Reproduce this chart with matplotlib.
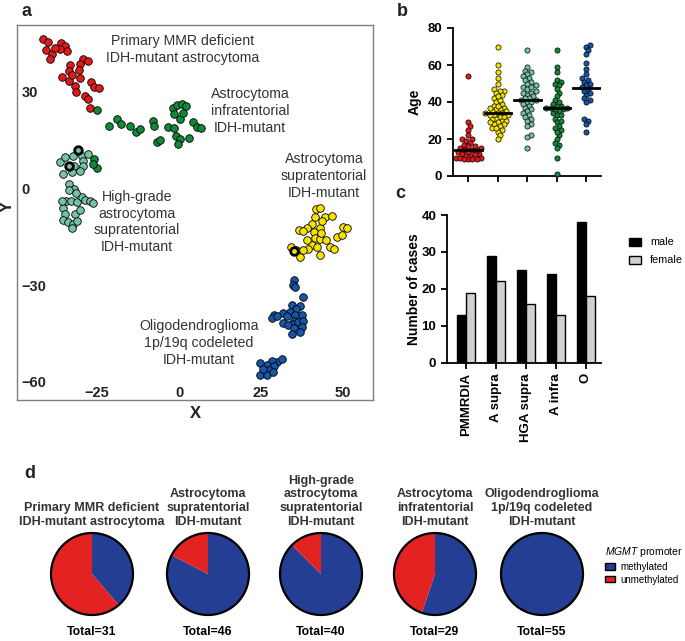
import numpy as np
import matplotlib.pyplot as plt
from matplotlib.patches import Patch, Circle

plt.rcParams["font.family"] = ["Liberation Sans", "DejaVu Sans"]
plt.rcParams["mathtext.fontset"] = "custom"
plt.rcParams["mathtext.it"] = "Liberation Sans:italic"

W, H = 685, 641

RED = "#e31a1c"
GREEN = "#10893a"
TEAL = "#74c3a6"
YELLOW = "#f7e300"
BLUE = "#1656a6"
PIE_BLUE = "#233e92"
PIE_RED = "#e32222"

# ---- panel a: t-SNE coordinates per cluster ----
mmr_x = [-41.4, -40.1, -40.5, -38.8, -39.3, -36.0, -34.7, -34.2, -36.3, -37.8,
         -29.4, -27.9, -30.2, -33.2, -30.6, -33.7, -35.8, -33.4, -30.2, -31.7,
         -31.4, -26.9, -25.9, -24.3, -28.7, -27.9, -27.3, -32.7]
mmr_y = [46.1, 45.1, 42.8, 41.6, 39.9, 44.9, 43.9, 42.3, 43.0, 43.3,
         39.9, 39.4, 38.4, 38.2, 36.6, 36.4, 34.3, 33.3, 34.0, 31.7,
         29.9, 33.0, 31.3, 31.0, 28.4, 27.6, 24.8, 35.1]

infra_x = [-25.1, -21.5, -18.8, -17.8, -15.1, -13.1, -11.9, -8.0, -7.6, -6.8,
           -5.8, -3.3, -1.5, -1.9, -0.5, 0.9, 2.1, -1.5, 0.3, -0.9,
           0.3, 2.9, 4.2, 5.4, 6.7, -0.2, 1.3, -25.9, -25.1, -26.3]
infra_y = [24.3, 19.3, 21.4, 19.8, 19.1, 17.5, 18.3, 20.9, 19.1, 14.4,
           14.8, 18.9, 18.6, 24.8, 25.8, 25.9, 25.5, 22.9, 21.4, 16.0,
           15.2, 15.5, 20.6, 18.9, 18.6, 13.7, 23.4, 9.0, 6.2, 7.5]

hga_x = [-30.7, -33.5, -36.3, -34.8, -32.4, -29.6, -27.9, -29.2, -29.4, -32.0,
         -35.5, -32.7, -30.2, -33.7, -32.0, -33.7, -34.5, -32.9, -31.2, -29.7,
         -28.6, -27.3, -26.3, -35.3, -34.9, -31.7, -30.2, -35.3, -33.9, -32.4,
         -31.0, -32.6, -31.4, -35.8]
hga_y = [11.7, 6.7, 8.0, 9.6, 9.8, 9.8, 10.5, 8.3, 7.0, 7.0,
         4.4, 4.9, 5.2, 1.2, -0.3, -0.5, -4.1, -4.1, -4.4, -2.6,
         -3.6, -4.1, -4.6, -6.2, -7.9, -7.9, -6.9, -9.8, -10.6, -11.0,
         -10.3, -12.5, -1.5, -4.1]
hga_ring = [0, 1]

supra_x = [41.8, 43.0, 44.5, 46.6, 41.5, 40.5, 43.0, 38.9, 36.5, 37.7,
           41.0, 50.1, 51.3, 48.1, 49.7, 41.5, 43.0, 44.8, 46.0, 47.1,
           40.4, 42.0, 39.4, 43.0, 36.9, 34.1, 35.5, 34.9, 37.9, 39.1,
           43.3, 43.5]
supra_y = [-6.5, -6.3, -8.8, -8.6, -8.8, -11.0, -12.5, -12.5, -12.9, -13.3,
           -13.5, -12.1, -12.3, -15.0, -14.6, -15.4, -15.8, -16.2, -18.3, -18.7,
           -17.5, -18.3, -18.9, -20.7, -21.2, -18.1, -19.1, -19.6, -19.3, -16.0,
           -14.0, -10.3]
supra_ring = [27]

oligo_x = [34.9, 34.6, 35.3, 37.7, 34.3, 36.7, 35.5, 33.8, 31.8, 32.8,
           35.4, 37.4, 28.8, 28.3, 29.8, 34.9, 34.3, 36.1, 37.9, 31.8,
           33.3, 34.9, 37.4, 34.3, 36.7, 29.8, 31.3, 28.3, 26.7, 24.7,
           28.8, 27.5, 24.7, 26.7, 28.6, 25.7]
oligo_y = [-28.4, -29.9, -30.6, -33.7, -36.1, -36.4, -37.5, -38.5, -38.7, -39.5,
           -39.2, -39.2, -39.2, -40.2, -39.7, -41.0, -42.0, -41.3, -41.0, -41.8,
           -42.3, -43.3, -43.0, -45.1, -44.6, -53.7, -52.9, -53.4, -54.7, -54.2,
           -55.2, -56.4, -57.8, -57.8, -56.8, -56.1]

# ---- panel b: ages per group ----
groups = ["PMMRDIA", "A supra", "HGA supra", "A infra", "O"]
group_colors = [RED, YELLOW, TEAL, GREEN, BLUE]
age_pmmrdia = [54, 29, 27, 25, 20, 20, 19, 18, 17, 16, 15, 15, 14, 14, 13, 13,
               12, 12, 11, 11, 10, 10, 10, 9, 9, 9, 9, 12, 16, 22, 14]
age_asupra = [70, 60, 56, 53, 50, 47, 46, 46, 45, 44, 42, 40, 39, 38, 37, 36,
              36, 35, 35, 34, 34, 34, 33, 33, 32, 32, 31, 31, 30, 30, 29, 28,
              28, 27, 26, 25, 24, 22, 20, 38, 41, 43, 37, 29, 26, 33]
age_hga = [68, 59, 57, 56, 55, 54, 53, 52, 51, 50, 49, 48, 47, 46, 45, 44, 43,
           42, 42, 41, 41, 40, 40, 39, 38, 37, 36, 35, 34, 33, 32, 31, 30, 28,
           27, 22, 21, 15, 45, 48]
age_ainfra = [68, 59, 56, 52, 51, 50, 49, 47, 45, 43, 41, 39, 38, 38, 37, 37,
              37, 36, 35, 34, 33, 31, 29, 27, 25, 22, 20, 17, 15, 10, 1, 40, 36,
              33, 30, 26, 24, 18]
age_o = [71, 70, 68, 66, 61, 58, 55, 53, 52, 51, 50, 49, 48, 47, 46, 45, 44,
         42, 41, 40, 31, 30, 28, 24]
age_medians = [14, 34, 41, 37, 47.5]

# ---- panel c: sex counts ----
male = [13, 29, 25, 24, 38]
female = [19, 22, 16, 13, 18]

# ---- panel d: MGMT promoter ----
pie_titles = ["Primary MMR deficient\nIDH-mutant astrocytoma",
              "Astrocytoma\nsupratentorial\nIDH-mutant",
              "High-grade\nastrocytoma\nsupratentorial\nIDH-mutant",
              "Astrocytoma\ninfratentorial\nIDH-mutant",
              "Oligodendroglioma\n1p/19q codeleted\nIDH-mutant"]
methylated = [12, 38, 35, 16, 55]
unmethylated = [19, 8, 5, 13, 0]


def px_axes(fig, left, top, right, bottom):
    return fig.add_axes([left / W, 1 - bottom / H, (right - left) / W, (bottom - top) / H])


def swarm(values, dy, dx):
    vals = np.asarray(values, float)
    offs = np.zeros(len(vals))
    placed = []
    cands = [0.0]
    for k in range(1, 30):
        cands += [k * dx * 0.5, -k * dx * 0.5]
    for i in np.argsort(vals):
        for c in cands:
            if all(((vals[i] - pv) / dy) ** 2 + ((c - po) / dx) ** 2 >= 1 for pv, po in placed):
                break
        offs[i] = c
        placed.append((vals[i], c))
    return offs


fig = plt.figure(figsize=(W / 100, H / 100), dpi=100)

# ---------------- panel a ----------------
ax = px_axes(fig, 17, 25, 373, 400)
ax.set_xlim(-49.4, 59.1)
ax.set_ylim(-65.6, 50.5)
clusters = [(mmr_x, mmr_y, RED, []), (infra_x, infra_y, GREEN, []),
            (hga_x, hga_y, TEAL, hga_ring), (supra_x, supra_y, YELLOW, supra_ring),
            (oligo_x, oligo_y, BLUE, [])]
for xs, ys, col, ring in clusters:
    ax.scatter(xs, ys, s=30, color=col, edgecolor="black", linewidth=0.6, zorder=3)
    if ring:
        ax.scatter([xs[i] for i in ring], [ys[i] for i in ring], s=30, color=col,
                   edgecolor="black", linewidth=2.0, zorder=4)
for sp in ax.spines.values():
    sp.set_color("#7f7f7f")
    sp.set_linewidth(1.0)
ax.set_xticks([-25, 0, 25, 50])
ax.set_yticks([-60, -30, 0, 30])
ax.tick_params(length=0, labelsize=10.5, colors="#222222")
ax.tick_params(axis="x", pad=-10)
ax.tick_params(axis="y", pad=-3.5)
for lab in ax.get_yticklabels():
    lab.set_ha("left")
for lab in ax.get_xticklabels() + ax.get_yticklabels():
    lab.set_fontweight("bold")
    lab.set_family(["Liberation Sans Narrow", "Liberation Sans"])
ax.set_xlabel("X", fontsize=12, fontweight="bold", color="#222222")
ax.set_ylabel("Y", fontsize=12, fontweight="bold", color="#222222")
ax.xaxis.set_label_coords(0.5, -0.016)
ax.yaxis.set_label_coords(-0.006, 0.515)

lab_kw = dict(ha="center", va="center", fontsize=10.2, color="#333333", linespacing=1.25)
ax.text(1.2, 42.9, "Primary MMR deficient\nIDH-mutant astrocytoma", **lab_kw)
ax.text(21.6, 23.8, "Astrocytoma\ninfratentorial\nIDH-mutant", **lab_kw)
ax.text(44.2, 3.7, "Astrocytoma\nsupratentorial\nIDH-mutant", **lab_kw)
ax.text(-12.8, -10.5, "High-grade\nastrocytoma\nsupratentorial\nIDH-mutant", **lab_kw)
ax.text(6.1, -48.0, "Oligodendroglioma\n1p/19q codeleted\nIDH-mutant", **lab_kw)

# ---------------- panel b ----------------
bx = px_axes(fig, 452.7, 28, 601, 176)
bx.set_xlim(-0.53, 4.5)
bx.set_ylim(0, 80)
ages = [age_pmmrdia, age_asupra, age_hga, age_ainfra, age_o]
for i, (vals, col) in enumerate(zip(ages, group_colors)):
    offs = swarm(vals, 2.2, 0.14)
    bx.scatter(i + offs, vals, s=14, color=col, edgecolor="black", linewidth=0.5,
               zorder=3, clip_on=False)
    bx.plot([i - 0.45, i + 0.45], [age_medians[i]] * 2, color="black", lw=2, zorder=4)
bx.spines[["top", "right"]].set_visible(False)
for sp in bx.spines.values():
    sp.set_linewidth(1.3)
bx.set_xticks(range(5))
bx.set_xticklabels([])
bx.set_yticks([0, 20, 40, 60, 80])
bx.tick_params(width=1.3, length=4, labelsize=9.5)
for lab in bx.get_yticklabels():
    lab.set_fontweight("bold")
bx.set_ylabel("Age", fontsize=10, fontweight="bold")
bx.yaxis.set_label_coords(-0.207, 0.5)

# ---------------- panel c ----------------
cx = px_axes(fig, 446.7, 215, 601, 362.7)
pos = np.arange(len(groups))
bw = 0.3
cx.bar(pos - bw / 2, male, bw, color="black", edgecolor="black", linewidth=1.0, label="male")
cx.bar(pos + bw / 2, female, bw, color="#d0d0d0", edgecolor="black", linewidth=1.0, label="female")
cx.set_xlim(-0.645, 4.51)
cx.set_ylim(0, 40)
cx.spines[["top", "right"]].set_visible(False)
for sp in cx.spines.values():
    sp.set_linewidth(1.3)
cx.set_xticks(pos)
cx.set_xticklabels(groups, rotation=90, fontsize=9, fontweight="bold")
cx.set_yticks([0, 10, 20, 30, 40])
cx.tick_params(width=1.3, length=4, labelsize=9.5)
for lab in cx.get_yticklabels():
    lab.set_fontweight("bold")
cx.set_ylabel("Number of cases", fontsize=10, fontweight="bold")
cx.yaxis.set_label_coords(-0.167, 0.5)
cx.legend(loc="upper left", bbox_to_anchor=(625 / W, 1 - 233 / H), bbox_transform=fig.transFigure,
          frameon=False, fontsize=7.8, handlelength=1.1, handleheight=0.75, handletextpad=0.8,
          labelspacing=0.75, borderaxespad=0)

# ---------------- panel d ----------------
centers = [92, 208, 321, 435, 542]
r = 41
for k, c in enumerate(centers):
    px = px_axes(fig, c - r - 2, 574 - r - 2, c + r + 2, 574 + r + 2)
    px.pie([methylated[k], unmethylated[k]], colors=[PIE_BLUE, PIE_RED], startangle=90,
           counterclock=False, radius=1, wedgeprops=dict(linewidth=0))
    px.add_patch(Circle((0, 0), 1, fill=False, edgecolor="black", lw=1.6))
    lim = (r + 2) / r
    px.set_xlim(-lim, lim)
    px.set_ylim(-lim, lim)
    fig.text(c / W, 1 - 528 / H, pie_titles[k], ha="center", va="bottom", fontsize=9,
             fontweight="bold", color="#333333", linespacing=1.2)
    total = methylated[k] + unmethylated[k]
    fig.text(c / W, 1 - 632 / H, f"Total={total}", ha="center", va="center", fontsize=8.8,
             fontweight="bold")

handles = [Patch(facecolor=PIE_BLUE, edgecolor="black", label="methylated"),
           Patch(facecolor=PIE_RED, edgecolor="black", label="unmethylated")]
fig.legend(handles=handles, loc="upper left", bbox_to_anchor=(605 / W, 1 - 545 / H),
           frameon=False, fontsize=7, handlelength=1.0, handleheight=0.6, handletextpad=0.6,
           labelspacing=0.3, borderaxespad=0, borderpad=0,
           title=r"$\mathit{MGMT}$ promoter", title_fontsize=7.5, alignment="left")

# panel letters
for letter, (x, y) in zip("abcd", [(27, 12), (402, 12), (400, 193), (30, 473)]):
    fig.text(x / W, 1 - y / H, letter, ha="center", va="center", fontsize=13,
             fontweight="bold", color="#222222")

fig.savefig("out.png", dpi=100)
